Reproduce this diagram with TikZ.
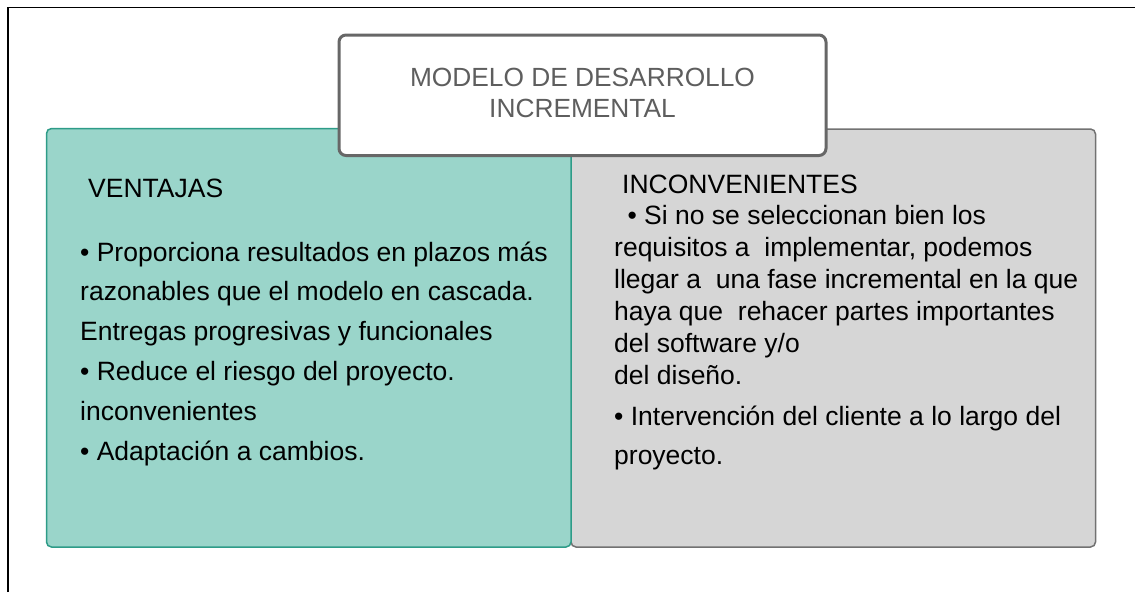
\documentclass[tikz,border=0pt]{standalone}
\usepackage{fontspec}
\setmainfont{Liberation Sans}
\definecolor{tealfill}{HTML}{9AD5CA}
\definecolor{tealline}{HTML}{2E9C88}
\definecolor{grayfill}{HTML}{D6D6D6}
\definecolor{grayline}{HTML}{727272}
\definecolor{titleline}{HTML}{676767}
\definecolor{titletext}{HTML}{5E5E5E}
\tikzset{
  panel/.style={rectangle, rounded corners=5pt, line width=1.5pt, inner sep=0pt},
  item/.style={anchor=base west, inner sep=0pt, font=\fontsize{26.5}{32}\selectfont},
}

\begin{document}
\begin{tikzpicture}[x=1pt, y=-1pt]
            \useasboundingbox[fill=white] (0, 0) rectangle (1135, 592);
            \draw[line width=1.5pt] (8, 592) -- (8, 7.5) -- (1135, 7.5);

            % the two panels
            \node[panel, draw=grayline, fill=grayfill, minimum width=524.5, minimum height=418] (cons) at (833.25, 338) {};
            \node[panel, draw=tealline, fill=tealfill, minimum width=524.5, minimum height=418.5] (pros) at (308.75, 337.75) {};

            % title
            \node[rectangle, rounded corners=7pt, draw=titleline, line width=3pt, fill=white, minimum width=487, minimum height=120.5] (title) at (582.5, 95.25) {};
            \node[text=titletext, align=center, inner sep=0pt, font=\fontsize{26.3}{31}\selectfont] (titletext) at ([yshift=2.5pt]title.center) {MODELO DE DESARROLLO\\INCREMENTAL};

            % ventajas
            \node[item] (v0) at (88, 197) {VENTAJAS};
            \node[item] (v1) at (80, 261) {\textbullet{} Proporciona resultados en plazos más};
            \node[item] (v2) at (80, 300) {razonables que el modelo en cascada.};
            \node[item] (v3) at (80, 340) {Entregas progresivas y funcionales};
            \node[item] (v4) at (80, 380) {\textbullet{} Reduce el riesgo del proyecto.};
            \node[item] (v5) at (80, 420) {inconvenientes};
            \node[item] (v6) at (80, 460) {\textbullet{} Adaptación a cambios.};

            % inconvenientes
            \node[item] (c0) at (622, 193) {INCONVENIENTES};
            \node[item] (c1) at (620, 224) {\ \textbullet{} Si no se seleccionan bien los};
            \node[item] (c2) at (614, 256) {requisitos a~ implementar, podemos};
            \node[item] (c3) at (614, 288) {llegar a~ una fase incremental en la que};
            \node[item] (c4) at (614, 320) {haya que~ rehacer partes importantes};
            \node[item] (c5) at (614, 352) {del software y/o};
            \node[item] (c6) at (614, 384) {del diseño.};
            \node[item] (c7) at (614, 425) {\textbullet{} Intervención del cliente a lo largo del};
            \node[item] (c8) at (614, 464) {proyecto.};
        \end{tikzpicture}
\end{document}
